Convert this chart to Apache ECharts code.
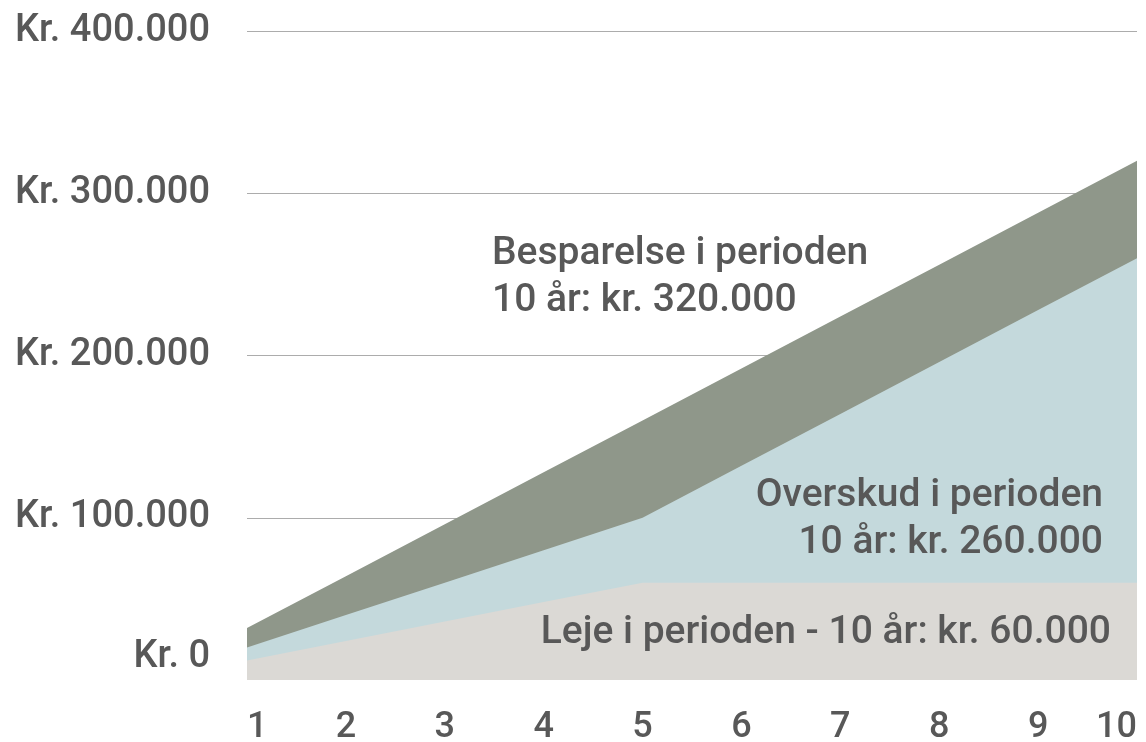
<!DOCTYPE html>
<html>
<head>
<meta charset="utf-8">
<script src="https://cdn.jsdelivr.net/npm/echarts@6/dist/echarts.min.js"></script>
<style>
  html, body { margin: 0; padding: 0; background: #fff; }
  #chart { width: 1146px; height: 742px; }
</style>
</head>
<body>
<div id="chart"></div>
<script>
// år 1..10
var years = ['1', '2', '3', '4', '5', '6', '7', '8', '9', '10']
// akkumulerede beløb i kr.
var besparelse = [32000, 64000, 96000, 128000, 160000, 192000, 224000, 256000, 288000, 320000]
var overskud = [20000, 40000, 60000, 80000, 100000, 132000, 164000, 196000, 228000, 260000]
var leje = [12000, 24000, 36000, 48000, 60000, 60000, 60000, 60000, 60000, 60000]

var fontColor = '#585858'
var fontFamily = 'Roboto'
var labelFont = '500 39px ' + fontFamily

function kr (v) {
  // 400000 -> "Kr. 400.000"
  var s = String(v).replace(/\B(?=(\d{3})+(?!\d))/g, '.')
  if (v === 0) return '{zero|Kr. 0}'
  return 'Kr. ' + s
}

function area (name, data, color) {
  return {
    name: name,
    type: 'line',
    data: data,
    showSymbol: false,
    symbol: 'none',
    lineStyle: { width: 0 },
    areaStyle: { color: color, opacity: 1 },
    silent: true
  }
}

function note (text, x, y, align) {
  return {
    type: 'text',
    x: x,
    y: y,
    z: 100,
    style: {
      text: text,
      fill: fontColor,
      font: labelFont,
      lineHeight: 47,
      textAlign: align,
      textVerticalAlign: 'middle'
    }
  }
}

var chart = echarts.init(document.getElementById('chart'))
chart.setOption({
  animation: false,
  textStyle: { fontFamily: fontFamily },
  grid: { left: 247, right: 9, top: 31, bottom: 62, outerBoundsMode: 'none', containLabel: false },
  xAxis: {
    type: 'category',
    data: years,
    boundaryGap: false,
    axisLine: { show: false },
    axisTick: { show: false },
    axisLabel: {
      color: fontColor,
      fontSize: 36,
      fontWeight: 500,
      fontFamily: fontFamily,
      margin: 30,
      alignMinLabel: 'left',
      alignMaxLabel: 'right'
    }
  },
  yAxis: {
    type: 'value',
    min: 0,
    max: 400000,
    interval: 100000,
    axisLine: { show: false },
    axisTick: { show: false },
    splitLine: { showMinLine: false, lineStyle: { color: '#acacac', width: 1 } },
    axisLabel: {
      color: fontColor,
      fontSize: 38,
      fontWeight: 500,
      fontFamily: fontFamily,
      margin: 37,
      formatter: kr,
      rich: {
        zero: {
          color: fontColor,
          fontSize: 38,
          fontWeight: 500,
          fontFamily: fontFamily,
          padding: [0, 0, 46, 0]
        }
      }
    }
  },
  series: [
    area('Besparelse', besparelse, '#8f978a'),
    area('Overskud', overskud, '#c4d9dc'),
    area('Leje', leje, '#dbd9d5')
  ],
  graphic: [
    note('Besparelse i perioden\n10 år: kr. 320.000', 492, 278, 'left'),
    note('Overskud i perioden\n10 år: kr. 260.000', 1103, 520, 'right'),
    note('Leje i perioden - 10 år: kr. 60.000', 1111, 633, 'right')
  ]
})
</script>
</body>
</html>
